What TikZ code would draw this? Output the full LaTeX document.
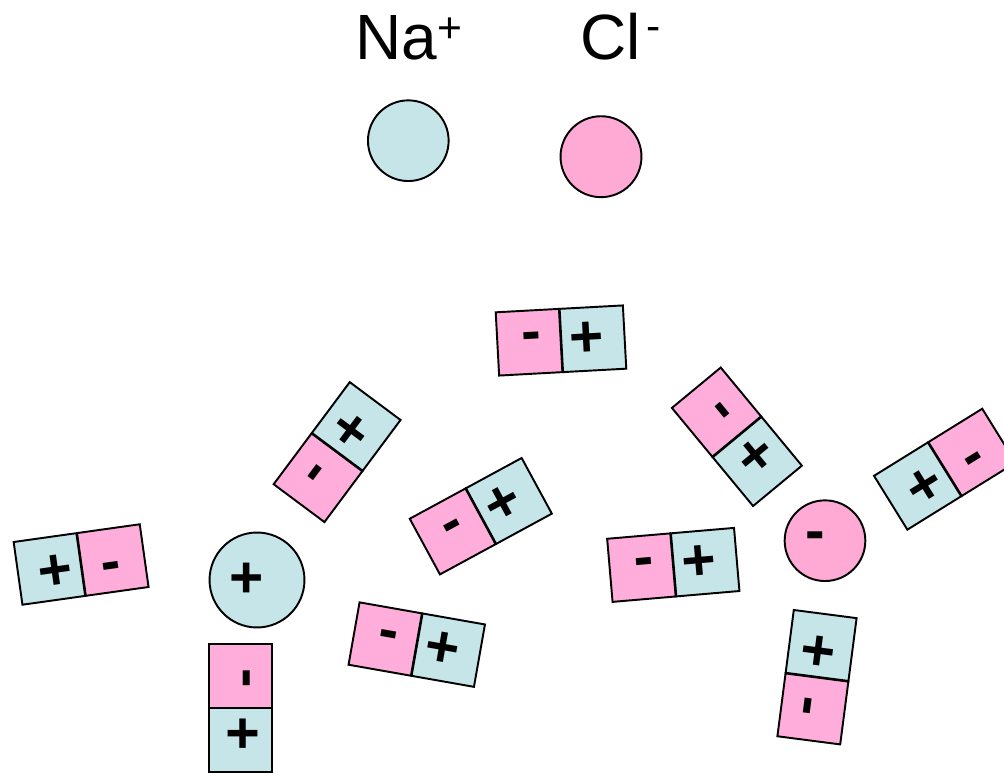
\documentclass[tikz,border=0pt]{standalone}
\usepackage{fontspec}
\setmainfont{Liberation Sans}
\usetikzlibrary{calc}
\definecolor{pinkc}{HTML}{FFAEDC}
\definecolor{bluec}{HTML}{C5E5E9}
\definecolor{pinkion}{HTML}{FFAAD4}
\tikzset{
  box/.style={draw=black, line width=1.45pt, minimum width=47.5pt, minimum height=47.5pt,
    inner sep=0pt, font=\fontsize{44}{44}\selectfont\bfseries},
  negbox/.style={box, fill=pinkc},
  posbox/.style={box, fill=bluec},
  ion/.style={circle, draw=black, line width=1.45pt, inner sep=0pt},
  bigsign/.style={font=\fontsize{44}{44}\selectfont\bfseries},
  label/.style={anchor=base west, inner sep=0pt, font=\fontsize{48}{48}\selectfont}
}
\newcommand{\dipole}[4]{%
  \coordinate (#1) at (#2,#3);
  \node[negbox, rotate=#4] (#1-n) at ($(#1)+({#4+180}:32)$) {\kern4pt-};
  \node[posbox, rotate=#4] (#1-p) at ($(#1)+({#4}:32)$) {+\kern9pt};
}
\begin{document}
\begin{tikzpicture}[x=0.75pt,y=0.75pt]
\useasboundingbox (0,0) rectangle (1004,772);
% labels
\node[label] (lna) at (355,712.7) {Na\raisebox{12.6pt}{\fontsize{32}{32}\selectfont +}};
\node[label] (lcl) at (580,712.7) {Cl\kern4pt\raisebox{14pt}{\fontsize{32}{32}\selectfont -}};
% free ions
\node[ion, fill=bluec, minimum size=60.5pt] (na) at (408.3,631.3) {};
\node[ion, fill=pinkion, minimum size=60.7pt] (cl) at (601,615.3) {};
% hydrated ions
\node[ion, fill=bluec, minimum size=71.2pt, bigsign] (na2) at (257,192) {+\kern15pt};
\node[ion, fill=pinkion, minimum size=60.5pt, bigsign] (cl2) at (825,231.3) {-\kern15pt};
% water dipoles
\dipole{A}{561}{431.5}{3.1}
\dipole{B}{337.1}{319.9}{53.3}
\dipole{C}{736.9}{335.2}{-50.4}
\dipole{D}{480.8}{255.8}{28.5}
\dipole{E}{81.1}{207.5}{188}
\dipole{F}{240.5}{64}{-90}
\dipole{G}{416.75}{127.4}{-10}
\dipole{H}{673.3}{207.1}{4.9}
\dipole{I}{944.8}{302.8}{211.8}
\dipole{J}{817}{94.8}{82.6}
\end{tikzpicture}
\end{document}
